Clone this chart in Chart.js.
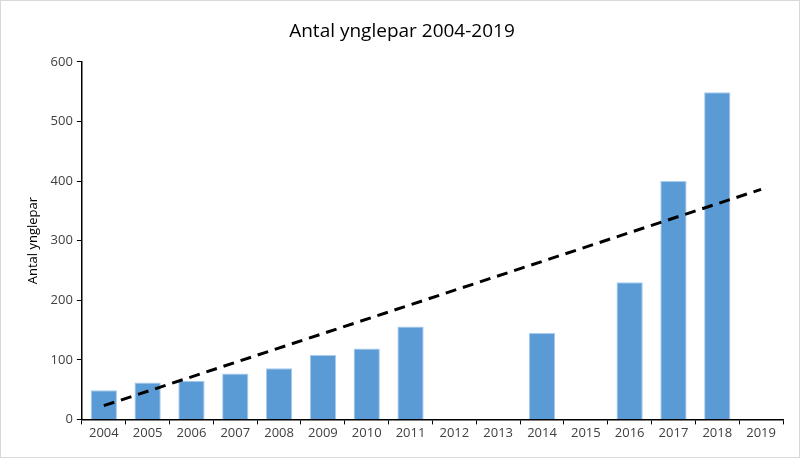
<!DOCTYPE html>
<html>
<head>
<meta charset="utf-8">
<script src="https://cdn.jsdelivr.net/npm/chart.js@4"></script>
<style>
    html, body { margin: 0; padding: 0; background: #fff; }
    #wrap { position: relative; width: 798px; height: 456px; border: 1px solid #d9d9d9; }
</style>
</head>
<body>
<div id="wrap"><canvas id="c"></canvas></div>
<script>
// År på x-aksen
const years = ['2004', '2005', '2006', '2007', '2008', '2009', '2010', '2011',
    '2012', '2013', '2014', '2015', '2016', '2017', '2018', '2019'];

// Antal ynglepar (null = ingen søjle)
const pairs = [49, 62, 65, 77, 86, 108, 119, 156, null, null, 145, null, 230, 400, 549, null];

// Lineær trendlinje, aflæst ved endepunkterne
const trend = [23, null, null, null, null, null, null, null, null, null, null, null, null, null, null, 386];

const yTicks = [0, 100, 200, 300, 400, 500, 600];

const textColor = '#404040';
const fontFamily = "'Open Sans', 'Noto Sans', sans-serif";

new Chart(document.getElementById('c'), {
    type: 'bar',
    data: {
        labels: years,
        datasets: [
            {
                type: 'line',
                label: 'Trend',
                data: trend,
                borderColor: '#000',
                borderWidth: 3,
                borderDash: [11, 7],
                pointRadius: 0,
                spanGaps: true,
                fill: false,
                order: 0
            },
            {
                label: 'Antal ynglepar',
                data: pairs,
                backgroundColor: '#5b9bd5',
                borderColor: '#a9cbec',
                borderWidth: 1,
                categoryPercentage: 1.0,
                barPercentage: 0.6,
                order: 1
            }
        ]
    },
    options: {
        responsive: true,
        maintainAspectRatio: false,
        animation: false,
        layout: { padding: { left: 20, right: 16, top: 10, bottom: 15 } },
        plugins: {
            legend: { display: false },
            tooltip: { enabled: false },
            title: {
                display: true,
                text: 'Antal ynglepar 2004-2019',
                color: '#000',
                font: { family: fontFamily, size: 19, weight: 'normal' },
                padding: { top: 9, bottom: 19 }
            }
        },
        scales: {
            x: {
                grid: {
                    display: true,
                    drawOnChartArea: false,
                    offset: true,
                    color: '#000',
                    tickLength: 5,
                    lineWidth: 1
                },
                border: { display: true, color: '#000', width: 1.5 },
                ticks: {
                    color: textColor,
                    font: { family: fontFamily, size: 13 },
                    maxRotation: 0,
                    autoSkip: false,
                    padding: 1
                }
            },
            y: {
                min: 0,
                max: 600,
                afterBuildTicks: function (axis) {
                    axis.ticks = yTicks.map(v => ({ value: v }));
                },
                grid: {
                    display: true,
                    drawOnChartArea: false,
                    color: '#000',
                    tickLength: 5
                },
                border: { display: true, color: '#000', width: 1.5 },
                ticks: {
                    color: textColor,
                    font: { family: fontFamily, size: 13 },
                    padding: 4
                },
                title: {
                    display: true,
                    text: 'Antal ynglepar',
                    color: '#000',
                    font: { family: fontFamily, size: 13 },
                    padding: { bottom: 6 }
                }
            }
        }
    }
});
</script>
</body>
</html>
